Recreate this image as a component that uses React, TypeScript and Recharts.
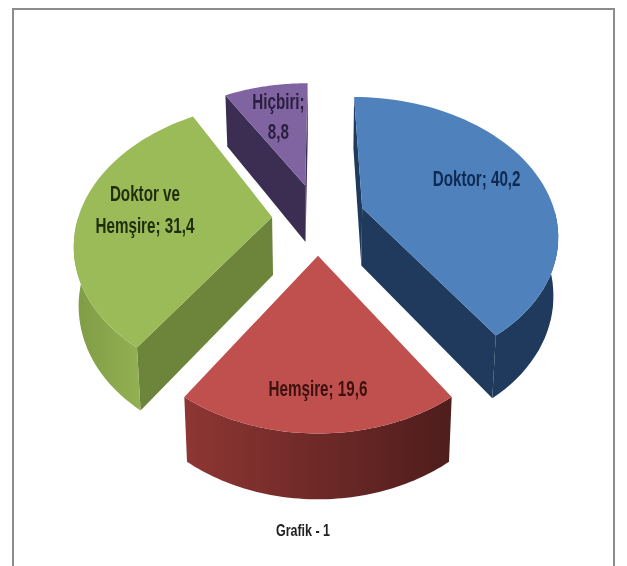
import { PieChart, Pie } from 'recharts';

const categories = ['Doktor', 'Hemşire', 'Doktor ve Hemşire', 'Hiçbiri'];
const shares = [40.2, 19.6, 31.4, 8.8];
const labelLines = [['Doktor; 40,2'], ['Hemşire; 19,6'], ['Doktor ve', 'Hemşire; 31,4'], ['Hiçbiri;', '8,8']];

const topColors = ['#4f81bd', '#c0504d', '#9bbb59', '#8064a2'];
const faceColors = ['#1f3a5c', '#7a2c2a', '#6c853b', '#3b2e52'];
const wallLeft = ['#1f3a5c', '#8e3633', '#7f9c46', '#3b2e52'];
const wallRight = ['#1f3a5c', '#4e1d1c', '#93b052', '#3b2e52'];
const labelColors = ['#0f2a52', '#3c1210', '#1f2d0d', '#2a1f3f'];

// how far each slice is pulled out, and where its label sits along the radius
const explode = [47, 50, 46, 49];
const labelFrac = [0.66, 0.78, 0.66, 0.63];
const labelShift = [-2, 0, -3, 0];

const CX = 318;
const CY = 218;
const RADIUS = 194;
const TILT = 0.72;
const PERSP = 0.18;
const DEPTH = 58;

const rad = (deg: number) => (deg * Math.PI) / 180;

// ground plane (u right, v towards viewer) to screen, z is the drop below the top face
function project(u: number, v: number, z = 0): [number, number] {
  const s = 1 + (PERSP * v) / RADIUS;
  const shrink = z > 0 ? 0.98 : 1;
  const drop = z * (1 + 0.6 * (s - 1));
  return [CX + u * s * shrink, CY + TILT * v * s + drop];
}

function pts(list: [number, number][]) {
  return list.map((p) => `${p[0].toFixed(1)},${p[1].toFixed(1)}`).join(' ');
}

function Slice3D(props: any) {
  const { cx, cy, outerRadius, startAngle, endAngle, midAngle, name } = props;
  const i = categories.indexOf(name);
  const mid = midAngle ?? (startAngle + endAngle) / 2;
  const u0 = explode[i] * Math.cos(rad(mid)) + (cx - CX);
  const v0 = -explode[i] * Math.sin(rad(mid)) + (cy - CY);

  const rim: [number, number][] = [];
  const steps = 60;
  for (let k = 0; k <= steps; k++) {
    const a = rad(startAngle + ((endAngle - startAngle) * k) / steps);
    rim.push([u0 + outerRadius * Math.cos(a), v0 - outerRadius * Math.sin(a)]);
  }
  const top = rim.map((p) => project(p[0], p[1]));
  const apex = project(u0, v0);
  const apexLow = project(u0, v0, DEPTH);

  // outer wall, only the part that faces the viewer
  const front = rim.filter((p) => p[1] - v0 >= -0.5);
  const wall =
    front.length > 1
      ? [...front.map((p) => project(p[0], p[1])), ...front.slice().reverse().map((p) => project(p[0], p[1], DEPTH))]
      : null;

  const first = rim[0];
  const last = rim[rim.length - 1];
  const startFace = Math.cos(rad(startAngle)) < 0.001;
  const endFace = Math.cos(rad(endAngle)) > -0.001;
  const gradId = `wall-${i}`;

  return (
    <g>
      <defs>
        <linearGradient id={gradId} x1="0" y1="0" x2="1" y2="0">
          <stop offset="0%" stopColor={wallLeft[i]} />
          <stop offset="100%" stopColor={wallRight[i]} />
        </linearGradient>
      </defs>
      {startFace && (
        <polygon
          fill={faceColors[i]}
          points={pts([apex, project(first[0], first[1]), project(first[0], first[1], DEPTH), apexLow])}
        />
      )}
      {endFace && (
        <polygon
          fill={faceColors[i]}
          points={pts([apex, project(last[0], last[1]), project(last[0], last[1], DEPTH), apexLow])}
        />
      )}
      {wall && <polygon fill={`url(#${gradId})`} points={pts(wall)} />}
      <polygon fill={topColors[i]} points={pts([apex, ...top])} />
    </g>
  );
}

function SliceLabel(props: any) {
  const { name, midAngle, outerRadius } = props;
  const i = categories.indexOf(name);
  const a = rad(midAngle);
  const r = explode[i] + outerRadius * labelFrac[i];
  const [x, y] = project(r * Math.cos(a), -r * Math.sin(a));
  const lines = labelLines[i];
  const gap = i === 2 ? 32 : 30;
  return (
    <g transform={`translate(${x},${y + labelShift[i]})`}>
      {lines.map((line, k) => (
        <text
          key={line}
          transform={`translate(0,${6 + (k - (lines.length - 1) / 2) * gap}) scale(0.8,1.12)`}
          textAnchor="middle"
          fontFamily="'Liberation Sans', sans-serif"
          fontWeight="bold"
          fontSize={19}
          fill={labelColors[i]}
        >
          {line}
        </text>
      ))}
    </g>
  );
}

const tableData = categories.map((name, i) => ({ name, value: shares[i] }));

export default function App() {
  return (
    <div style={{ position: 'absolute', left: 0, top: 0, width: 627, height: 566, background: '#fff', overflow: 'hidden', filter: 'blur(0.4px)' }}>
      <div
        style={{
          position: 'absolute',
          left: 12,
          top: 8,
          width: 599,
          height: 570,
          borderLeft: '2px solid #8c8c8c',
          borderTop: '2px solid #8c8c8c',
          borderRight: '2px solid #8c8c8c',
        }}
      />
      <div style={{ position: 'absolute', left: 0, top: 0 }}>
        <PieChart width={627} height={566} margin={{ top: 0, right: 0, bottom: 0, left: 0 }}>
          <Pie
            data={tableData}
            dataKey="value"
            nameKey="name"
            cx={CX}
            cy={CY}
            innerRadius={0}
            outerRadius={RADIUS}
            startAngle={90}
            endAngle={-270}
            stroke="none"
            shape={Slice3D}
            label={SliceLabel}
            labelLine={false}
            isAnimationActive={false}
          />
        </PieChart>
      </div>
      <div
        style={{
          position: 'absolute',
          left: 203,
          width: 200,
          top: 522,
          textAlign: 'center',
          fontFamily: "'Liberation Sans', sans-serif",
          fontWeight: 'bold',
          fontSize: 16,
          color: '#222',
          transform: 'scaleX(0.78)',
        }}
      >
        Grafik - 1
      </div>
    </div>
  );
}
